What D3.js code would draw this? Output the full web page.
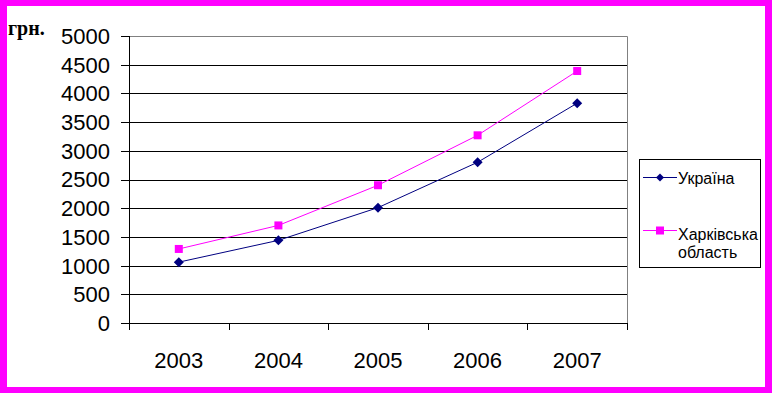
<!DOCTYPE html>
<html>
<head>
<meta charset="utf-8">
<script src="https://cdn.jsdelivr.net/npm/d3@7"></script>
<style>
  body { margin: 0; background: #fff; }
  text { font-family: Arial, "Liberation Sans", sans-serif; }
</style>
</head>
<body>
<svg id="chart" width="772" height="393"></svg>
<script>
// data
var years = ["2003", "2004", "2005", "2006", "2007"];
var ukraine = [1060, 1440, 2010, 2800, 3830];
var kharkiv = [1290, 1700, 2400, 3270, 4390];
var yTicks = [0, 500, 1000, 1500, 2000, 2500, 3000, 3500, 4000, 4500, 5000];

var svg = d3.select("#chart");

// outer frame
svg.append("rect").attr("width", 772).attr("height", 393).attr("fill", "#ff00ff");
svg.append("rect").attr("x", 7).attr("y", 6).attr("width", 758).attr("height", 381).attr("fill", "#fff");

var pLeft = 129, pRight = 627, pTop = 36, pBottom = 323;

var x = d3.scalePoint().domain(years).range([pLeft, pRight]).padding(0.5);
var xb = d3.scaleBand().domain(years).range([pLeft, pRight]);
var y = d3.scaleLinear().domain([0, 5000]).range([pBottom, pTop]);

// gridlines
svg.selectAll(".grid")
    .data(yTicks.filter(function(d) { return d > 0 && d < 5000; }))
  .enter().append("line")
    .attr("x1", pLeft).attr("x2", pRight)
    .attr("y1", function(d) { return Math.round(y(d)) + 0.5; })
    .attr("y2", function(d) { return Math.round(y(d)) + 0.5; })
    .attr("stroke", "#000");

// plot border (top/right grey)
svg.append("path")
    .attr("d", "M" + pLeft + "," + (pTop + 0.5) + "H" + (pRight + 0.5) + "V" + pBottom)
    .attr("fill", "none").attr("stroke", "#808080");

// y axis
svg.append("line")
    .attr("x1", pLeft + 0.5).attr("x2", pLeft + 0.5)
    .attr("y1", pTop).attr("y2", pBottom + 6)
    .attr("stroke", "#000");
svg.selectAll(".ytick")
    .data(yTicks)
  .enter().append("line")
    .attr("x1", pLeft - 8).attr("x2", pLeft)
    .attr("y1", function(d) { return Math.round(y(d)) + 0.5; })
    .attr("y2", function(d) { return Math.round(y(d)) + 0.5; })
    .attr("stroke", "#000");
svg.selectAll(".ylab")
    .data(yTicks)
  .enter().append("text")
    .attr("x", 110)
    .attr("y", function(d) { return y(d); })
    .attr("dy", "0.36em")
    .attr("text-anchor", "end")
    .attr("font-size", 22)
    .text(function(d) { return d; });

// x axis
svg.append("line")
    .attr("x1", pLeft).attr("x2", pRight + 1)
    .attr("y1", pBottom + 0.5).attr("y2", pBottom + 0.5)
    .attr("stroke", "#000");
var xEdges = years.map(function(d) { return xb(d); }).concat([pRight]);
svg.selectAll(".xtick")
    .data(xEdges)
  .enter().append("line")
    .attr("x1", function(d) { return Math.round(d) + 0.5; })
    .attr("x2", function(d) { return Math.round(d) + 0.5; })
    .attr("y1", pBottom).attr("y2", pBottom + 7)
    .attr("stroke", "#000");
svg.selectAll(".xlab")
    .data(years)
  .enter().append("text")
    .attr("x", function(d) { return x(d); })
    .attr("y", 368)
    .attr("text-anchor", "middle")
    .attr("font-size", 22)
    .text(function(d) { return d; });

// unit label
svg.append("text")
    .attr("x", 8).attr("y", 35)
    .attr("font-weight", "bold")
    .attr("font-size", 20)
    .style("font-family", "'Liberation Serif', 'Times New Roman', serif")
    .text("грн.");

var line = d3.line()
    .x(function(d, i) { return x(years[i]); })
    .y(function(d) { return y(d); });

var diamond = "M0,-5L5,0L0,5L-5,0Z";

// Харківська область
svg.append("path").datum(kharkiv)
    .attr("d", line).attr("fill", "none").attr("stroke", "#ff00ff").attr("stroke-width", 1);
svg.selectAll(".kh")
    .data(kharkiv)
  .enter().append("rect")
    .attr("x", function(d, i) { return x(years[i]) - 4; })
    .attr("y", function(d) { return y(d) - 4; })
    .attr("width", 8).attr("height", 8)
    .attr("fill", "#ff00ff");

// Україна
svg.append("path").datum(ukraine)
    .attr("d", line).attr("fill", "none").attr("stroke", "#000080").attr("stroke-width", 1);
svg.selectAll(".ua")
    .data(ukraine)
  .enter().append("path")
    .attr("d", diamond)
    .attr("transform", function(d, i) { return "translate(" + x(years[i]) + "," + y(d) + ")"; })
    .attr("fill", "#000080");

// legend
var lg = svg.append("g");
lg.append("rect")
    .attr("x", 639.5).attr("y", 159.5).attr("width", 121).attr("height", 108)
    .attr("fill", "#fff").attr("stroke", "#000");

lg.append("line").attr("x1", 643).attr("x2", 677).attr("y1", 177.5).attr("y2", 177.5)
    .attr("stroke", "#000080");
lg.append("path").attr("d", "M0,-4L4,0L0,4L-4,0Z")
    .attr("transform", "translate(660,177.5)").attr("fill", "#000080");
lg.append("text").attr("x", 678).attr("y", 178).attr("dy", "0.36em")
    .attr("font-size", 16).text("Україна");

lg.append("line").attr("x1", 643).attr("x2", 677).attr("y1", 230.5).attr("y2", 230.5)
    .attr("stroke", "#ff00ff");
lg.append("rect").attr("x", 656).attr("y", 226.5).attr("width", 8).attr("height", 8)
    .attr("fill", "#ff00ff");
lg.append("text").attr("x", 678).attr("y", 234).attr("dy", "0.36em")
    .attr("font-size", 16).text("Харківська");
lg.append("text").attr("x", 678).attr("y", 252).attr("dy", "0.36em")
    .attr("font-size", 16).text("область");
</script>
</body>
</html>
